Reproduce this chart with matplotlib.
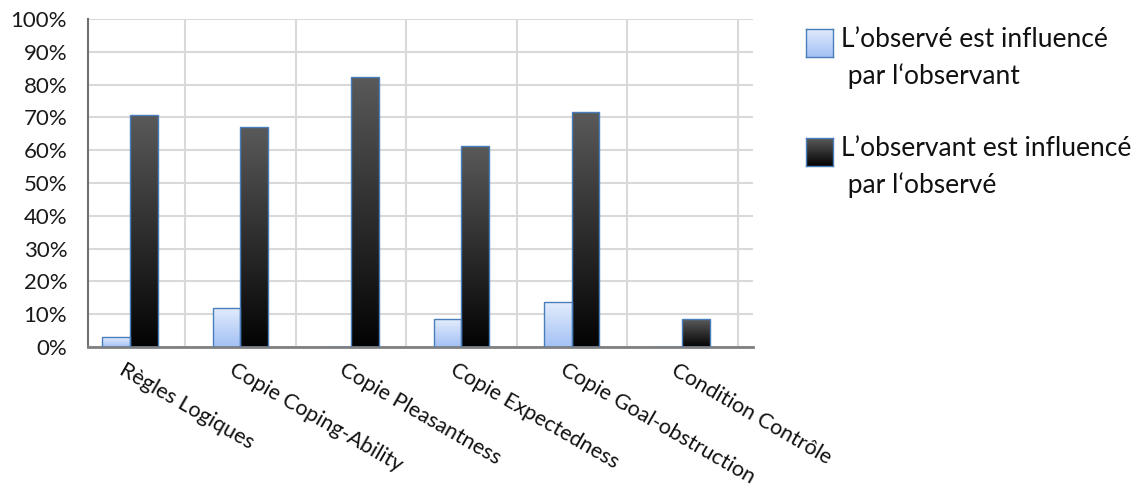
import numpy as np
import matplotlib.pyplot as plt
from matplotlib.colors import LinearSegmentedColormap
from matplotlib.ticker import PercentFormatter

categories = [
    "Règles Logiques",
    "Copie Coping-Ability",
    "Copie Pleasantness",
    "Copie Expectedness",
    "Copie Goal-obstruction",
    "Condition Contrôle",
]
observe_influence = [0.03, 0.119, 0.0, 0.085, 0.137, 0.0]
observant_influence = [0.708, 0.672, 0.824, 0.614, 0.717, 0.085]
series_names = [
    "L\u2019observé est influencé\n par l\u2018observant",
    "L\u2019observant est influencé\n par l\u2018observé",
]

FONT = "Lato"
light_cmap = LinearSegmentedColormap.from_list("light", ["#a3c1f5", "#e3ecfc"])
dark_cmap = LinearSegmentedColormap.from_list("dark", ["#030303", "#5a5a5a"])
EDGE = "#4a7ebb"


def gradient_fill(ax, bars, cmap):
    grad = np.linspace(0, 1, 256).reshape(-1, 1)
    for b in bars:
        h = b.get_height()
        if h <= 0:
            continue
        x0 = b.get_x()
        w = b.get_width()
        im = ax.imshow(grad, cmap=cmap, origin="lower", aspect="auto",
                       extent=[x0, x0 + w, 0, h], zorder=2)
        im.set_clip_path(b)
        b.set_facecolor("none")


fig = plt.figure(figsize=(11.37, 4.90), dpi=100)
ax = fig.add_axes([88 / 1137, 143 / 490, 665 / 1137, 328 / 490])

x = np.arange(len(categories))
width = 0.25
bars1 = ax.bar(x - width / 2, observe_influence, width, edgecolor=EDGE,
               linewidth=1, zorder=3)
bars2 = ax.bar(x + width / 2, observant_influence, width, edgecolor=EDGE,
               linewidth=1, zorder=3)
gradient_fill(ax, bars1, light_cmap)
gradient_fill(ax, bars2, dark_cmap)

ax.set_xlim(-0.38, 5.64)
ax.set_ylim(0, 1)
ax.set_yticks(np.arange(0, 1.01, 0.1))
ax.yaxis.set_major_formatter(PercentFormatter(1.0, decimals=0))
ax.tick_params(axis="y", length=0, pad=15, labelsize=16)
for lbl in ax.get_yticklabels():
    lbl.set_fontfamily(FONT)
    lbl.set_color("#1a1a1a")
ax.grid(axis="y", color="#d9d9d9", linewidth=1.5, zorder=0)
for b in np.arange(0.5, len(categories), 1):
    ax.axvline(b, color="#d9d9d9", linewidth=1.5, zorder=0)

ax.set_xticks([])
for i, cat in enumerate(categories):
    ax.text(i - 0.04, -0.04, cat, transform=ax.get_xaxis_transform(),
            rotation=-30, rotation_mode="anchor", ha="left", va="top",
            fontsize=15.5, family=FONT, color="#111111")

for side in ["top", "right"]:
    ax.spines[side].set_visible(False)
ax.spines["left"].set_color("#707070")
ax.spines["left"].set_linewidth(1.5)
ax.spines["bottom"].set_color("#808080")
ax.spines["bottom"].set_linewidth(2)

# legend drawn by hand so the swatches keep their gradients
legend_y = [43, 152]
for name, cmap, yc in zip(series_names, [light_cmap, dark_cmap], legend_y):
    sw = fig.add_axes([806 / 1137, (490 - yc - 14) / 490, 27 / 1137, 28 / 490])
    sw.imshow(np.linspace(0, 1, 64).reshape(-1, 1), cmap=cmap, origin="lower",
              aspect="auto")
    sw.set_xticks([])
    sw.set_yticks([])
    for s in sw.spines.values():
        s.set_color(EDGE)
        s.set_linewidth(1)
    fig.text(841 / 1137, (490 - yc + 16) / 490, name, ha="left", va="top",
             fontsize=19, family=FONT, color="#111111", linespacing=1.55)

fig.savefig("out.png", dpi=100)
